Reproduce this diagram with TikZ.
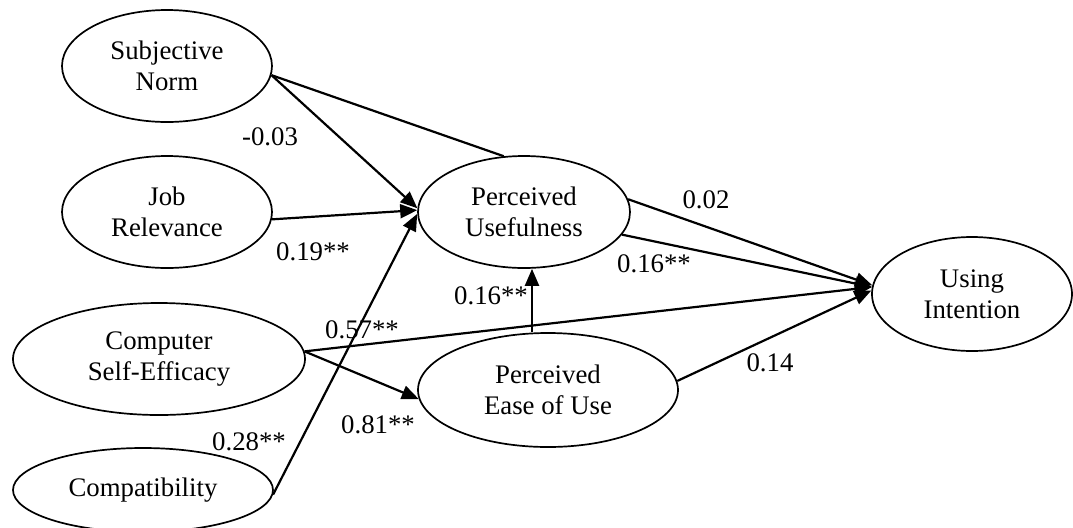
\documentclass[tikz,border=0pt]{standalone}
\usepackage{fontspec}
\setmainfont{Liberation Serif}
\usetikzlibrary{shapes.geometric,arrows.meta}
\tikzset{
  construct/.style={draw, ellipse, line width=0.85pt, inner sep=0pt, align=center,
    font=\fontsize{13.4pt}{15.3pt}\selectfont},
  coef/.style={inner sep=0pt, font=\fontsize{13.4pt}{15.3pt}\selectfont},
  conn/.style={line width=1.1pt},
  arr/.style={conn, -{Triangle[length=8.5pt,width=7pt]}}
}
\begin{document}
\begin{tikzpicture}[x=0.5pt,y=-0.5pt]
\clip (0,0) rectangle (1073,527);
\useasboundingbox (0,0) rectangle (1073,527);
% constructs
\node[construct, minimum width=105pt, minimum height=56pt] (SN) at (167,66) {Subjective\\Norm};
\node[construct, minimum width=105pt, minimum height=56pt] (JR) at (167,212) {Job\\Relevance};
\node[construct, minimum width=146pt, minimum height=56pt] (CSE) at (159,359) {Computer\\Self-Efficacy};
\node[construct, minimum width=130pt, minimum height=42pt] (CP) at (143,490) {Compatibility};
\node[construct, minimum width=106pt, minimum height=56pt] (PU) at (524,212) {Perceived\\Usefulness};
\node[construct, minimum width=130pt, minimum height=57pt] (PE) at (548,390) {Perceived\\Ease of Use};
\node[construct, minimum width=100pt, minimum height=57pt] (UI) at (972,294) {Using\\Intention};
\coordinate (vx) at (532,0);
% connectors
\draw[arr] (SN.-5) -- (PU.178);
\draw[conn] (SN.-5) -- (PU.110);
\draw[arr] (JR.-4) -- (PU.179);
\draw[arr] (CP.-2) -- (PU.181);
\draw[arr] (CSE.3) -- (UI.176);
\draw[arr] (CSE.3) -- (PE.184);
\draw[arr] (PE.north -| vx) -- (PU.south -| vx);
\draw[arr] (PU.7) -- (UI.175);
\draw[arr] (PU.-13) -- (UI.176);
\draw[arr] (PE.4) -- (UI.178);
% coefficients
\node[coef] (l1) at (270,137) {-0.03};
\node[coef] (l2) at (313,252) {0.19**};
\node[coef] (l3) at (249,442) {0.28**};
\node[coef] (l4) at (362,330) {0.57**};
\node[coef] (l5) at (378,425) {0.81**};
\node[coef] (l6) at (491,296) {0.16**};
\node[coef] (l7) at (706,200) {0.02};
\node[coef] (l8) at (654,264) {0.16**};
\node[coef] (l9) at (770,363) {0.14};
\end{tikzpicture}
\end{document}
